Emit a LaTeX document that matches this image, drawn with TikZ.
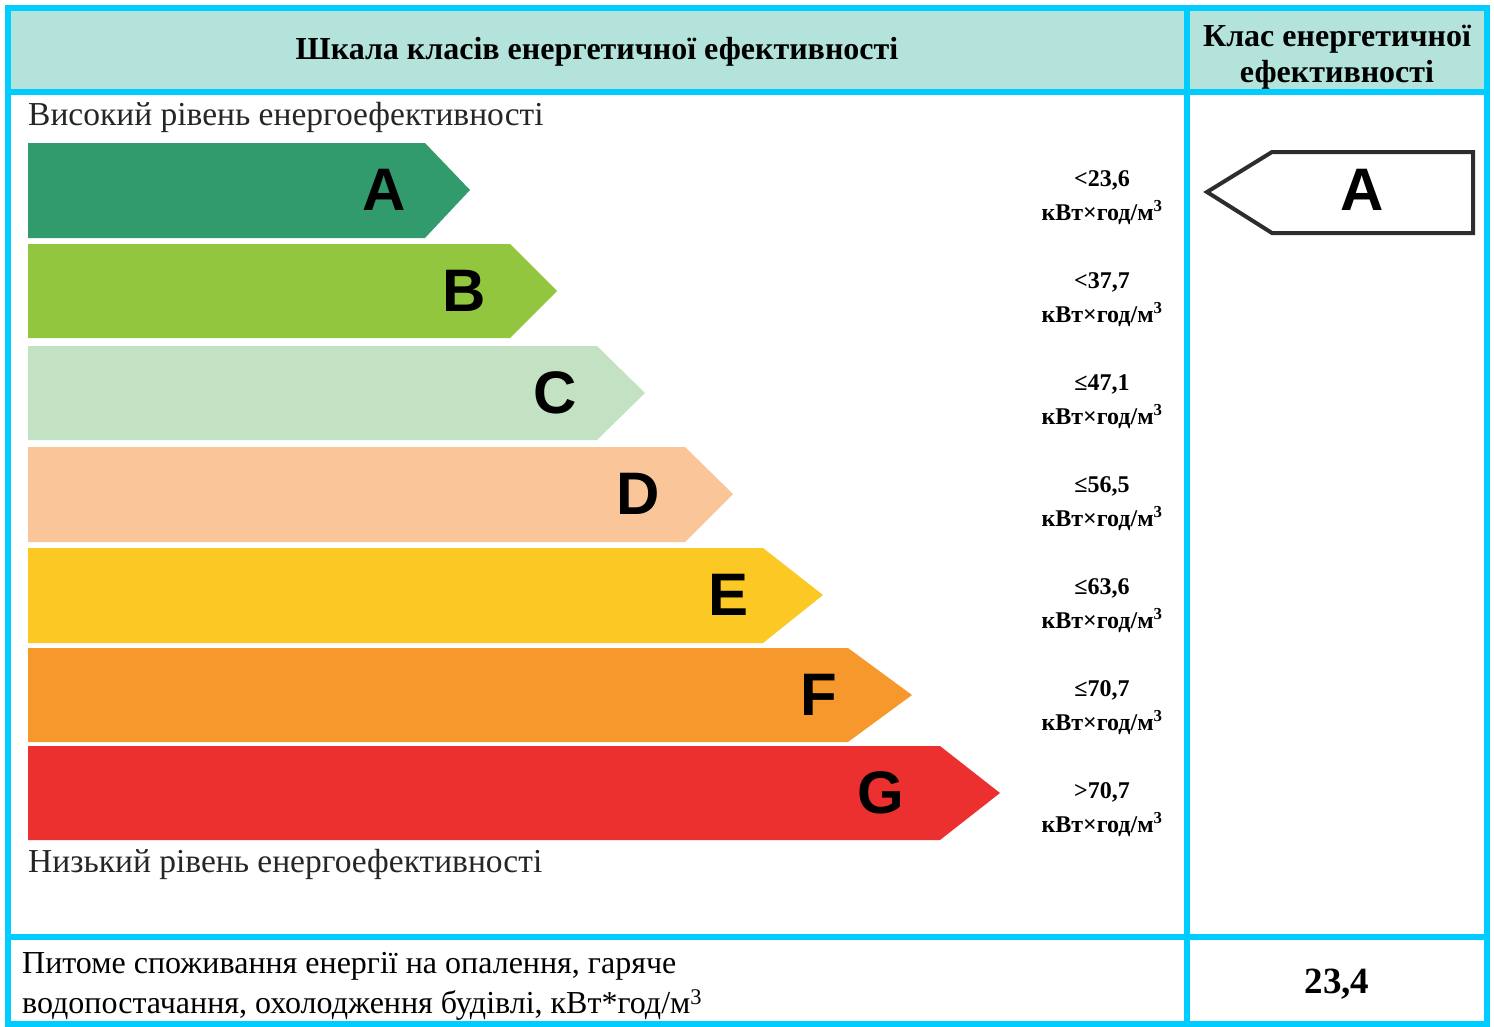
\documentclass[tikz,border=0pt]{standalone}
\usepackage{fontspec}
\setmainfont{Liberation Serif}
\newfontfamily\lettfont{Liberation Sans}
\definecolor{cyanline}{RGB}{0,204,255}
\definecolor{headfill}{RGB}{179,227,218}
\definecolor{barA}{RGB}{50,155,110}
\definecolor{barB}{RGB}{145,198,62}
\definecolor{barC}{RGB}{195,225,195}
\definecolor{barD}{RGB}{249,197,153}
\definecolor{barE}{RGB}{252,200,35}
\definecolor{barF}{RGB}{247,152,45}
\definecolor{barG}{RGB}{236,48,48}
\definecolor{darkstroke}{RGB}{45,45,45}
\begin{document}
\begin{tikzpicture}[x=1pt,y=1pt,
  frame/.style={draw=cyanline,line width=6pt},
  letter/.style={font=\lettfont\bfseries\fontsize{60}{60}\selectfont,inner sep=0pt,text=black},
  headtxt/.style={font=\bfseries\fontsize{32}{36}\selectfont,align=center,inner sep=0pt},
  valtxt/.style={font=\bfseries\fontsize{24}{34}\selectfont,align=center,inner sep=0pt},
  plain/.style={font=\fontsize{33.5}{36}\selectfont,inner sep=0pt,anchor=west,text=black!85},
  bottxt/.style={font=\fontsize{32}{40}\selectfont,inner sep=0pt,anchor=north west,align=left}]
\useasboundingbox (0,0) rectangle (1494,-1026);
\fill[headfill] (8,-8) rectangle (1486,-92);
% bars
\foreach \L/\t/\b/\m/\r/\p/\c/\lx in {
  A/143/238/190/425/470/barA/384,
  B/244/338/291/510/557/barB/464,
  C/346/440/393/597/645/barC/555,
  D/447/542/494/685/733/barD/638,
  E/548/643/595/763/823/barE/729,
  F/648/742/695/848/912/barF/819,
  G/746/840/793/940/1000/barG/881}
{
  \fill[\c] (28,-\t) -- (\r,-\t) -- (\p,-\m) -- (\r,-\b) -- (28,-\b) -- cycle;
  \node[letter] (bar\L) at (\lx,-\m) {\L};
}
% value labels
\node[valtxt] (vA) at (1102,-198) {<23,6\\кВт×год/м\textsuperscript{3}};
\node[valtxt] (vB) at (1102,-300) {<37,7\\кВт×год/м\textsuperscript{3}};
\node[valtxt] (vC) at (1102,-402) {≤47,1\\кВт×год/м\textsuperscript{3}};
\node[valtxt] (vD) at (1102,-504) {≤56,5\\кВт×год/м\textsuperscript{3}};
\node[valtxt] (vE) at (1102,-606) {≤63,6\\кВт×год/м\textsuperscript{3}};
\node[valtxt] (vF) at (1102,-708) {≤70,7\\кВт×год/м\textsuperscript{3}};
\node[valtxt] (vG) at (1102,-810) {>70,7\\кВт×год/м\textsuperscript{3}};
% side texts
\node[plain] (high) at (28,-117) {Високий рівень енергоефективності};
\node[plain] (low) at (28,-864) {Низький рівень енергоефективності};
% headers
\node[headtxt] (h1) at (597,-52) {Шкала класів енергетичної ефективності};
\node[headtxt] (h2) at (1337,-57) {Клас енергетичної\\ефективності};
% indicator
\draw[darkstroke,line width=4pt,line join=miter,fill=white] (1207,-192) -- (1272,-152) -- (1473,-152) -- (1473,-233) -- (1272,-233) -- cycle;
\node[letter] (indA) at (1362,-190) {A};
% bottom row
\node[bottxt] (btxt) at (22,-952) {Питоме споживання енергії на опалення, гаряче\\водопостачання, охолодження будівлі, кВт*год/м\textsuperscript{3}};
\node[font=\bfseries\fontsize{37}{37}\selectfont,inner sep=0pt] (bval) at (1337,-984) {23,4};
% frame
\draw[frame] (1187,-8) -- (1187,-1023);
\draw[frame] (8,-92) -- (1486,-92);
\draw[frame] (8,-937) -- (1486,-937);
\draw[frame] (8,-8) rectangle (1486.5,-1023.5);
\end{tikzpicture}
\end{document}
